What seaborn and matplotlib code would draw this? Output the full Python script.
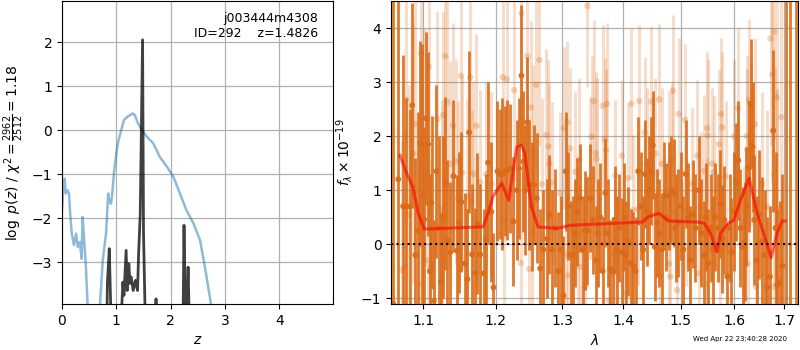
import numpy as np
import matplotlib
matplotlib.use("Agg")
import matplotlib.pyplot as plt
from matplotlib.ticker import NullLocator, NullFormatter
import seaborn as sns

# --- redshift PDF (left panel) ---
z_chi2 = [0.0, 0.025, 0.05, 0.07, 0.10, 0.13, 0.15, 0.18, 0.22, 0.26, 0.29, 0.33, 0.36, 0.38,
          0.40, 0.44, 0.47, 0.50, 0.68, 0.70, 0.75, 0.81, 0.85, 0.87, 0.90, 0.92, 0.96, 1.01,
          1.04, 1.09, 1.14, 1.19, 1.25, 1.30, 1.34, 1.40, 1.47, 1.56, 1.68, 1.80, 1.93, 2.05,
          2.17, 2.29, 2.42, 2.54, 2.63, 2.74, 2.80]
logp_chi2 = [-1.82, -1.29, -1.10, -1.44, -1.36, -1.44, -1.89, -2.35, -2.61, -2.35, -2.65, -2.54,
             -2.92, -1.97, -2.35, -3.11, -3.94, -5.0, -5.0, -3.94, -2.95, -2.35, -1.44, -1.59,
             -1.67, -1.52, -0.91, -0.45, -0.23, 0.0, 0.23, 0.29, 0.34, 0.38, 0.34, 0.15, 0.0,
             -0.15, -0.30, -0.61, -0.83, -1.06, -1.44, -1.82, -2.12, -2.50, -3.11, -3.94, -5.0]

z_pz = [0.82, 0.835, 0.87, 0.90, 0.92, 1.08, 1.10, 1.12, 1.14, 1.18, 1.20, 1.23, 1.25, 1.27,
        1.31, 1.35, 1.39, 1.41, 1.44, 1.4826, 1.50, 1.53, 1.55, 1.71, 1.73, 1.75, 2.21, 2.23,
        2.245, 2.27, 2.30, 2.32, 2.34, 2.36]
logp_pz = [-5.0, -3.48, -2.69, -4.2, -5.0, -5.0, -4.0, -3.45, -3.75, -2.73, -3.64, -3.03, -3.48,
           -3.33, -3.64, -3.41, -3.64, -2.80, -1.89, 2.05, -2.35, -4.2, -5.0, -5.0, -3.83, -5.0,
           -5.0, -4.0, -2.16, -4.2, -4.0, -3.11, -4.2, -5.0]

# --- spectrum (right panel), fluxes in 1e-19 ---
wave_a = [1.0605, 1.0670, 1.0734, 1.0775, 1.0820, 1.0851, 1.0894, 1.0921, 1.0956, 1.0986,
          1.1009, 1.1032, 1.1062, 1.1085, 1.1107, 1.1138, 1.1174, 1.1205, 1.1233, 1.1264,
          1.1296, 1.1323, 1.1360, 1.1405, 1.1452, 1.1483, 1.1515, 1.1562, 1.1598, 1.1622,
          1.1664, 1.1712, 1.1740, 1.1778, 1.1830, 1.1863, 1.1892, 1.1938,
          1.1969, 1.2027, 1.2065, 1.2099, 1.2138, 1.2172, 1.2212, 1.2261, 1.2310, 1.2344,
          1.2380, 1.2410, 1.2440, 1.2470, 1.2500, 1.2535, 1.2570, 1.2610, 1.2661, 1.2712,
          1.2763, 1.2804, 1.2840, 1.2892, 1.2944, 1.2980, 1.3023, 1.3059, 1.3101, 1.3138,
          1.3169, 1.3206, 1.3243, 1.3285, 1.3328, 1.3366, 1.3404, 1.3447, 1.3490,
          1.3544, 1.3577, 1.3615, 1.3653, 1.3697, 1.3735, 1.3779, 1.3818, 1.3851, 1.3890,
          1.3928, 1.3973, 1.4011, 1.4045, 1.4083, 1.4122, 1.4167, 1.4207, 1.4252, 1.4298,
          1.4338, 1.4366, 1.4401, 1.4441, 1.4470, 1.4505, 1.4540, 1.4580, 1.4621, 1.4662,
          1.4703, 1.4744, 1.4786, 1.4833, 1.4874, 1.4910, 1.4952, 1.5000, 1.5048, 1.5091,
          1.5134, 1.5176, 1.5225, 1.5268,
          1.5334, 1.5377, 1.5426, 1.5463, 1.5500, 1.5551, 1.5594, 1.5637, 1.5687, 1.5736,
          1.5774, 1.5811, 1.5867, 1.5911, 1.5948, 1.5997, 1.6036, 1.6081, 1.6120, 1.6163,
          1.6206, 1.6238, 1.6279, 1.6318, 1.6358, 1.6391, 1.6437, 1.6483, 1.6550, 1.6597,
          1.6650, 1.6704, 1.6771, 1.6818, 1.6852, 1.6906, 1.6954, 1.7022, 1.7111, 1.7228]
flux_a = [-1.10, 1.20, 0.70, 0.70, 0.70, 2.57, -0.20, 0.25, 1.86, 0.90,
          0.46, 2.33, 1.85, -0.50, 0.77, -1.05, 1.35, 0.30, -0.70, 0.50,
          1.12, 0.06, -0.15, 1.26, -0.12, 0.40, 0.78, -0.36, -0.65, 2.07,
          -0.19, -0.53, 0.38, -0.19, -0.54, 0.09, 1.51, 0.60,
          -0.80, 1.35, 1.30, 1.30, 1.35, 1.37, 1.40, 0.42, 1.00, 1.40,
          3.12, 1.53, 1.00, 2.26, 1.10, 0.70, 1.10, 0.85, -0.45, -0.10,
          0.10, 0.55, -0.10, 0.30, -0.50, -0.10, -0.95, 1.35, 0.70, -0.20,
          -0.20, 0.20, 0.60, 0.85, -0.10, 0.25, 0.25, 0.85, 0.45,
          -0.30, 0.20, 0.50, -0.50, 0.95, 0.20, -0.45, -0.50, 0.45, -0.10,
          0.30, -0.15, 0.50, -0.20, 0.05, -0.35, -0.40, -0.50, 1.35, 0.70,
          -0.10, 1.30, 0.60, 1.00, 1.35, 1.83, -0.05, 0.40, 0.20, -0.10,
          0.90, 0.50, 0.90, 1.00, 0.95, 0.30, 0.40, 0.70, -0.10, 1.30,
          0.50, -0.30, 0.55, 0.30,
          1.00, 0.20, -0.20, 0.50, -0.35, 0.30, -0.10, 0.50, 0.30, 0.75,
          0.10, 0.45, -0.60, 0.30, -0.15, 0.60, 1.15, 1.55, 0.30, -0.05,
          0.05, 0.70, 1.42, 2.60, 1.80, 0.45, -0.30, 0.55, 0.05, -0.20,
          -0.80, -0.60, 2.10, 0.30, -0.75, -0.70, -0.40, 4.80, 5.20, 5.50]
err_a = [6.0, 4.0, 2.8, 2.0, 1.8, 1.9, 1.8, 2.2, 1.9, 2.8,
         1.7, 1.6, 1.7, 1.8, 1.6, 1.5, 1.6, 1.7, 1.3, 1.5,
         1.6, 1.5, 1.3, 1.4, 1.4, 1.3, 1.3, 1.3, 1.3, 1.5,
         1.3, 1.2, 1.3, 1.3, 1.2, 1.2, 1.5, 1.3,
         1.0, 1.3, 1.2, 1.4, 1.2, 1.3, 1.2, 1.2, 1.3, 1.3,
         1.3, 1.3, 1.2, 1.2, 1.2, 1.2, 1.1, 1.2, 1.1, 1.1,
         1.1, 1.1, 1.1, 1.1, 1.1, 1.0, 1.1, 1.1, 1.0, 1.0,
         1.1, 1.0, 1.0, 1.0, 1.0, 1.1, 1.0, 1.0, 1.0,
         1.0, 1.0, 1.0, 1.0, 1.0, 1.0, 0.9, 1.0, 1.0, 1.0,
         1.0, 1.0, 1.0, 1.0, 1.0, 1.0, 1.0, 1.0, 1.0, 1.0,
         1.0, 1.0, 1.0, 1.0, 1.0, 1.0, 1.0, 1.0, 1.0, 1.0,
         1.0, 1.0, 1.0, 1.0, 1.0, 1.0, 1.0, 1.0, 1.0, 1.0,
         1.0, 1.0, 1.0, 1.0,
         1.0, 1.0, 1.0, 1.0, 1.0, 1.0, 1.0, 1.0, 1.0, 1.0,
         1.0, 1.0, 1.0, 1.0, 1.0, 1.1, 1.1, 1.1, 1.1, 1.1,
         1.1, 1.1, 1.2, 1.2, 1.2, 1.2, 1.2, 1.2, 1.2, 1.2,
         1.3, 1.3, 1.5, 1.4, 1.4, 1.5, 1.7, 6.0, 8.0, 8.0]

wave_b = [1.0721, 1.0756, 1.0777, 1.0806, 1.0865, 1.0886, 1.0939, 1.0966, 1.1026, 1.1062,
          1.1071, 1.1089, 1.1187, 1.1242, 1.1264, 1.1296, 1.1323, 1.1360, 1.1401, 1.1438,
          1.1470, 1.1507, 1.1526, 1.1591, 1.1638, 1.1656, 1.1680, 1.1726, 1.1774, 1.1868,
          1.1940,
          1.2104, 1.2121, 1.2162, 1.2271, 1.2368, 1.2378, 1.2468, 1.2499, 1.2518, 1.2538,
          1.2559, 1.2600, 1.2651, 1.2687, 1.2755, 1.2788, 1.2804, 1.2839, 1.2969, 1.3031,
          1.3063, 1.3084, 1.3100, 1.3126, 1.3211, 1.3258, 1.3274, 1.3285, 1.3366, 1.3405,
          1.3447, 1.3474,
          1.3506, 1.3544, 1.3555, 1.3653, 1.3685, 1.3708, 1.3724, 1.3752, 1.3851, 1.3863,
          1.3975, 1.4031, 1.4076, 1.4134, 1.4167, 1.4247, 1.4270, 1.4362, 1.4402, 1.4477,
          1.4501, 1.4548, 1.4618, 1.4635, 1.4665, 1.4790, 1.4796, 1.4814, 1.4843, 1.4861,
          1.4933, 1.4963, 1.5023, 1.5083, 1.5095, 1.5205,
          1.5303, 1.5334, 1.5365, 1.5426, 1.5457, 1.5475, 1.5489, 1.5495, 1.5582, 1.5614,
          1.5709, 1.5735, 1.5745, 1.5771, 1.5835, 1.5995, 1.6073, 1.6188, 1.6244, 1.6254,
          1.6264, 1.6286, 1.6319, 1.6410, 1.6424, 1.6550, 1.6650, 1.6717, 1.6751, 1.6778,
          1.6790, 1.6798, 1.6845, 1.6858, 1.6934]
flux_b = [-0.48, -0.41, 2.67, 0.54, 1.68, 2.22, -0.74, 3.53, 1.80, -0.30,
          3.28, -0.42, 2.32, 0.66, 2.39, 3.48, 2.63, 1.49, 2.20, 1.53,
          0.85, 3.12, 1.32, 0.88, 3.09, 0.78, 1.30, 2.19, 1.15, 1.30,
          1.12,
          3.09, 0.44, 3.05, 2.85, -0.35, 4.27, 3.48, -0.46, 2.53, 0.21,
          1.72, 2.95, 3.41, 1.11, 2.02, 1.81, 1.49, 1.14, 0.94, 2.15,
          -0.19, 2.26, -0.58, 1.77, 1.34, -0.09, 1.57, -0.42, -0.80, 4.41,
          1.22, 1.99,
          2.65, 1.68, 1.58, 2.56, 1.94, 1.74, 2.60, -1.04, -0.17, 1.27,
          1.64, -0.91, 1.22, 2.60, 0.63, 0.65, 2.65, 2.07, 1.49, 2.64,
          1.32, 1.68, 2.68, -0.59, 1.49, -0.36, 1.43, -0.60, 1.58, 2.84,
          -0.85, 2.41, -0.25, 2.30, 0.63, 1.12,
          1.64, -0.54, 0.68, 1.36, -0.74, 0.20, 2.15, 2.01, 1.49, 1.34,
          1.85, -0.12, 2.41, 2.16, 1.25, 2.00, 2.51, -0.05, 2.00, 1.75,
          -0.36, 2.67, 1.85, 2.22, -0.79, 1.11, 0.69, 3.81, 3.14, -0.79,
          3.93, 1.28, 2.72, 0.67, 2.35]
err_b = [2.4, 2.5, 2.3, 2.4, 2.4, 2.3, 2.2, 2.2, 2.2, 2.1,
         2.1, 2.0, 2.0, 2.0, 1.9, 2.0, 1.9, 1.9, 1.9, 1.9,
         1.8, 1.8, 1.8, 1.8, 1.8, 1.7, 1.7, 1.7, 1.7, 1.7,
         1.7,
         1.8, 1.7, 1.7, 1.7, 1.7, 1.7, 1.7, 1.6, 1.6, 1.6,
         1.6, 1.6, 1.6, 1.6, 1.6, 1.6, 1.5, 1.5, 1.5, 1.5,
         1.5, 1.5, 1.5, 1.5, 1.5, 1.5, 1.5, 1.5, 1.5, 1.5,
         1.5, 1.5,
         1.5, 1.5, 1.5, 1.5, 1.5, 1.5, 1.5, 1.4, 1.4, 1.4,
         1.4, 1.4, 1.4, 1.4, 1.4, 1.4, 1.4, 1.4, 1.4, 1.4,
         1.4, 1.4, 1.4, 1.4, 1.4, 1.4, 1.4, 1.4, 1.4, 1.4,
         1.4, 1.4, 1.4, 1.4, 1.4, 1.4,
         1.4, 1.4, 1.4, 1.4, 1.4, 1.4, 1.4, 1.4, 1.4, 1.4,
         1.4, 1.4, 1.4, 1.4, 1.4, 1.4, 1.5, 1.5, 1.5, 1.5,
         1.5, 1.5, 1.5, 1.6, 1.6, 1.7, 1.8, 2.0, 2.0, 2.0,
         2.0, 2.0, 2.2, 2.2, 2.4]

wave_model = [1.069, 1.078, 1.086, 1.093, 1.101, 1.182, 1.189, 1.196, 1.209, 1.219, 1.231, 1.238,
              1.243, 1.253, 1.263, 1.292, 1.313, 1.353, 1.432, 1.443, 1.461, 1.478, 1.530, 1.543,
              1.555, 1.567, 1.574, 1.587, 1.599, 1.612, 1.629, 1.645, 1.658, 1.673, 1.685, 1.695,
              1.702]
flux_model = [1.65, 1.31, 1.06, 0.57, 0.28, 0.32, 0.57, 0.88, 1.13, 0.81, 1.80, 1.83, 1.68, 0.69,
              0.32, 0.29, 0.35, 0.37, 0.41, 0.51, 0.57, 0.43, 0.41, 0.39, 0.20, -0.14, 0.20, 0.38,
              0.44, 0.81, 1.22, 0.57, 0.20, -0.25, 0.20, 0.43, 0.43]

x_ticks = [1.1, 1.2, 1.3, 1.4, 1.5, 1.6, 1.7]

sns.set_style("ticks", {"axes.edgecolor": "black", "xtick.color": "black", "ytick.color": "black",
                        "text.color": "black", "axes.labelcolor": "black", "grid.color": "#b0b0b0"})
plt.rcParams["font.family"] = ["DejaVu Sans"]

ORANGE = (0.86, 0.42, 0.09)

fig = plt.figure(figsize=(8, 3.5), dpi=100)

# 1. p(z) panel
ax1 = fig.add_axes([0.0775, 0.131, 0.339, 0.866])
ax1.grid(True, color="#b0b0b0", lw=0.9)
sns.lineplot(x=z_chi2, y=logp_chi2, ax=ax1, sort=False, estimator=None,
             color="#1f77b4", alpha=0.5, lw=1.8)
sns.lineplot(x=z_pz, y=logp_pz, ax=ax1, sort=False, estimator=None,
             color="black", alpha=0.75, lw=2.0)
ax1.set_xlim(0, 4.99)
ax1.set_ylim(-3.95, 2.93)
ax1.set_xticks([0, 1, 2, 3, 4])
ax1.set_yticks([-3, -2, -1, 0, 1, 2])
ax1.set_xlabel(r"$z$")
ax1.set_ylabel(r"$\log\ p(z)$ / $\chi^2=\frac{2962}{2512}=1.18$")
ax1.text(0.945, 0.965, "j003444m4308\nID=292    z=1.4826", transform=ax1.transAxes,
         ha="right", va="top", fontsize=9)

# 2. spectrum panel
ax2 = fig.add_axes([0.489, 0.131, 0.5085, 0.866])
ax2.grid(True, color="#b0b0b0", lw=0.9)
ax2.errorbar(wave_b, flux_b, yerr=err_b, fmt="none", ecolor=ORANGE, elinewidth=2.2, alpha=0.22)
sns.scatterplot(x=wave_b, y=flux_b, ax=ax2, color=ORANGE, alpha=0.28, s=22, edgecolor="none")
ax2.errorbar(wave_a, flux_a, yerr=err_a, fmt="none", ecolor=ORANGE, elinewidth=2.0, alpha=0.9)
sns.scatterplot(x=wave_a, y=flux_a, ax=ax2, color=ORANGE, alpha=0.95, s=18, edgecolor="none")
sns.lineplot(x=wave_model, y=flux_model, ax=ax2, sort=False, estimator=None,
             color="red", alpha=0.6, lw=2.2)
ax2.axhline(0, color="black", ls=":", lw=1.5)

ax2.set_xscale("log")
ax2.set_xlim(1.058, 1.728)
ax2.set_ylim(-1.11, 4.5)
ax2.set_xticks(x_ticks)
ax2.set_xticklabels([f"{t:.1f}" for t in x_ticks])
ax2.xaxis.set_minor_locator(NullLocator())
ax2.xaxis.set_minor_formatter(NullFormatter())
ax2.set_yticks([-1, 0, 1, 2, 3, 4])
ax2.set_xlabel(r"$\lambda$")
ax2.set_ylabel(r"$f_\lambda\times10^{-19}$")

fig.text(0.984, 0.031, "Wed Apr 22 23:40:28 2020", ha="right", va="center", fontsize=5)

plt.savefig("out.png", dpi=100)
plt.close()
